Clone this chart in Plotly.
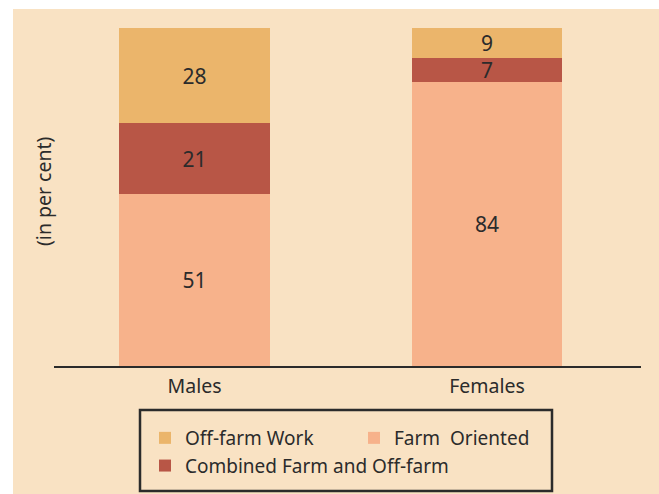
import plotly.graph_objects as go

# Data (per cent)
groups = ['Males', 'Females']
farm_oriented = [51, 84]
combined = [21, 7]
off_farm = [28, 9]

bg = '#F9E2C3'
dark = '#2b2b2b'
font = 'Noto Sans'

# plot area in pixels: x 54..641, y 28..366
W, H = 659, 494
L, R, T, B = 54, 18, 28, 128
pw, ph = W - L - R, H - T - B


def px(x):
    return (x - L) / pw


def py(y):
    return (H - B - y) / ph


series = [
    ('Farm  Oriented', farm_oriented, '#F7B28B', 2),
    ('Combined Farm and Off-farm', combined, '#B85646', 3),
    ('Off-farm Work', off_farm, '#EBB56B', 1),
]

fig = go.Figure()
for name, vals, col, rank in series:
    fig.add_trace(go.Bar(
        x=groups, y=vals, name=name, marker_color=col, marker_line_width=0,
        width=0.515, text=[str(v) for v in vals], textposition='inside',
        insidetextanchor='middle', textangle=0, constraintext='none',
        textfont=dict(size=21, color=dark, family=font), legendrank=rank,
        hoverinfo='skip'
    ))

# unit spacing between bar centres is ~292.5 px; Males centre at x=194.5
unit = 292.5
x0 = -(194.5 - L) / unit
fig.update_xaxes(range=[x0, x0 + pw / unit], showline=True, linecolor=dark,
                 linewidth=2, ticks='', showgrid=False, zeroline=False,
                 ticklabelstandoff=2,
                 tickfont=dict(size=19.5, color=dark, family=font))
fig.update_yaxes(range=[0, 100], visible=False)

# white margins at the top and left of the page
fig.add_shape(type='rect', xref='paper', yref='paper', x0=-1, x1=px(13),
              y0=-1, y1=2, fillcolor='white', line_width=0, layer='below')
fig.add_shape(type='rect', xref='paper', yref='paper', x0=-1, x1=2,
              y0=py(9), y1=2, fillcolor='white', line_width=0, layer='below')
# legend frame
fig.add_shape(type='rect', xref='paper', yref='paper', x0=px(140), x1=px(552),
              y0=py(491), y1=py(410), line=dict(color=dark, width=2.5))

fig.add_annotation(text='(in per cent)', xref='paper', yref='paper',
                   x=px(43), y=py(191), textangle=-90, xanchor='center',
                   yanchor='middle', showarrow=False,
                   font=dict(size=19.5, color=dark, family=font))

fig.update_layout(
    width=W, height=H, margin=dict(l=L, r=R, t=T, b=B, autoexpand=False),
    paper_bgcolor=bg, plot_bgcolor=bg, barmode='stack', bargap=0,
    showlegend=True,
    legend=dict(orientation='h', x=px(145), xanchor='left',
                y=py(419), yanchor='top', entrywidth=164,
                traceorder='normal', bgcolor='rgba(0,0,0,0)', borderwidth=0,
                font=dict(size=19, color=dark, family=font)),
)

fig.write_html('out.html', config={'displayModeBar': False},
               post_script="document.body.style.margin='0';document.body.style.overflow='hidden';")
